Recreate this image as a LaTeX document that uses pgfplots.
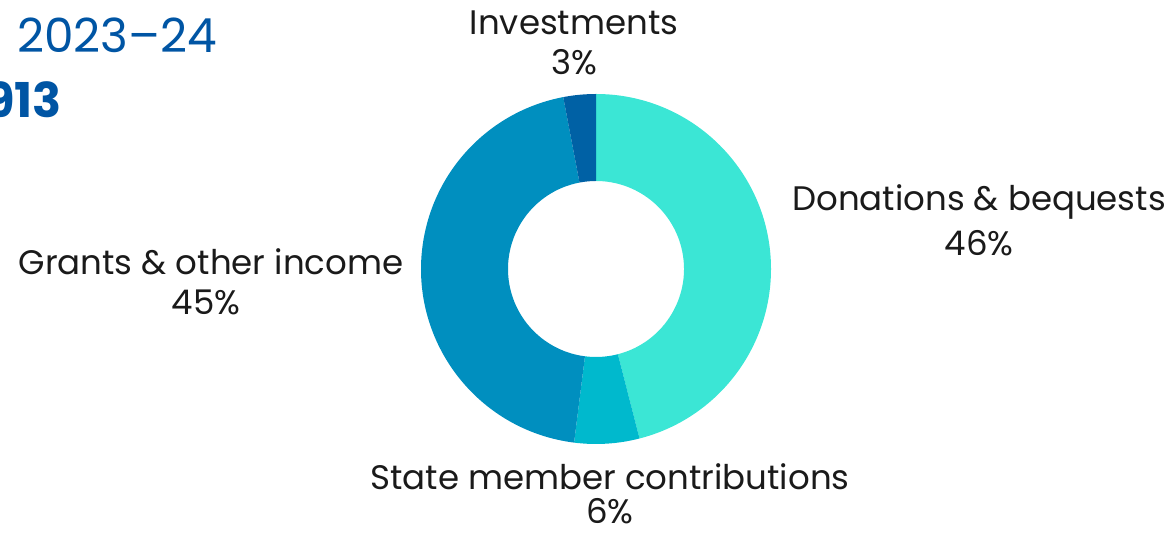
\documentclass[border=0pt]{standalone}
\usepackage{fontspec}
\setmainfont{Poppins}
\usepackage{pgfplots}
\pgfplotsset{compat=1.18}

\definecolor{donations}{HTML}{3BE6D5}
\definecolor{statemem}{HTML}{00B9CD}
\definecolor{grants}{HTML}{008FBF}
\definecolor{invest}{HTML}{0061A5}
\definecolor{titleblue}{HTML}{0055A4}
\definecolor{labeltext}{HTML}{1A1A1A}

% donut centre (596,266), outer radius 175, inner 88; slices clockwise from the top
% #1 cumulative start (%), #2 share (%), #3 colour
\newcommand\slice[3]{%
  \fill[#3] (axis cs:{596+175*cos(90-3.6*#1)},{266+175*sin(90-3.6*#1)})
    arc[start angle={90-3.6*#1}, end angle={90-3.6*(#1+#2)}, radius=175pt]
    -- (axis cs:{596+88*cos(90-3.6*(#1+#2))},{266+88*sin(90-3.6*(#1+#2))})
    arc[start angle={90-3.6*(#1+#2)}, end angle={90-3.6*#1}, radius=88pt]
    -- cycle;}

\begin{document}
\begin{tikzpicture}
\path[use as bounding box] (0,0) rectangle (1176pt,535pt);
\clip (0,0) rectangle (1176pt,535pt);

\begin{axis}[
    x=1pt, y=1pt,
    xmin=0, xmax=1176, ymin=0, ymax=535,
    at={(0,0)}, anchor=south west,
    hide axis, clip=false,
  ]
  \slice{0}{46}{donations}
  \slice{46}{6}{statemem}
  \slice{52}{45}{grants}
  \slice{97}{3}{invest}
\end{axis}

\begin{scope}[every node/.style={font=\fontsize{34}{40}\selectfont, text=labeltext, inner sep=0pt, anchor=base}]
  \node at (574pt,500pt) {Investments};
  \node at (574pt,460pt) {3\%};
  \node at (979pt,324pt) {Donations \& bequests};
  \node at (979pt,279pt) {46\%};
  \node at (211pt,260pt) {Grants \& other income};
  \node at (206pt,220pt) {45\%};
  \node at (610pt,45pt) {State member contributions};
  \node at (610pt,11pt) {6\%};
\end{scope}

\node[anchor=base west, inner sep=0pt, text=titleblue, font=\fontsize{47}{52}\selectfont] at (17pt,482pt) {2023–24};
\node[anchor=base east, inner sep=0pt, text=titleblue, font=\fontsize{48}{52}\selectfont\bfseries] at (62pt,417pt) {913};
\end{tikzpicture}
\end{document}
